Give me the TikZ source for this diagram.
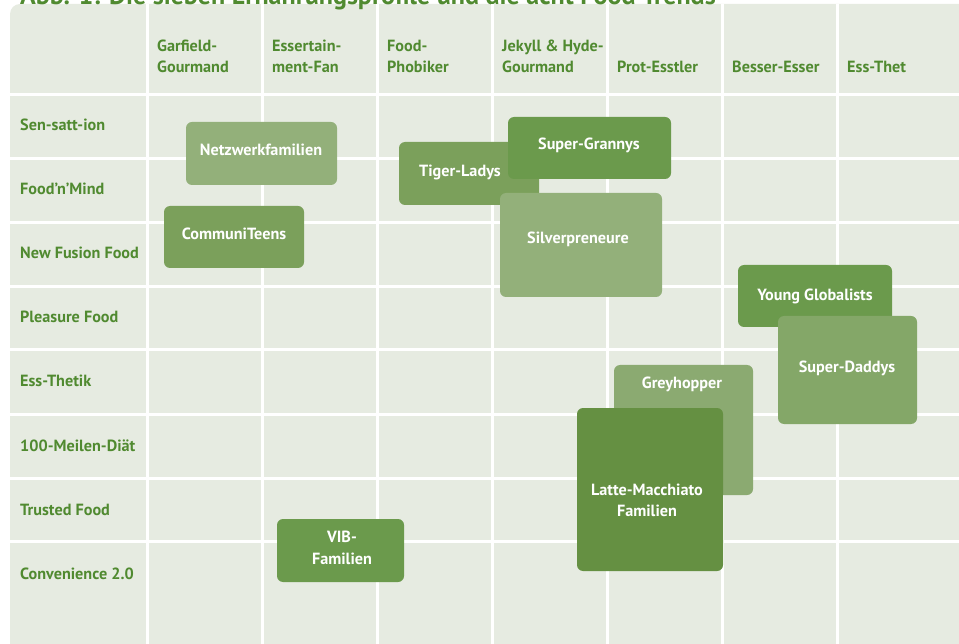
\documentclass[tikz,border=0pt]{standalone}
\usepackage{fontspec}
\setmainfont{PT Sans}
\usetikzlibrary{positioning}

\definecolor{gridbg}{RGB}{230,235,225}
\definecolor{labgreen}{RGB}{80,138,48}
\definecolor{gpale}{RGB}{147,176,122}
\definecolor{gsoft}{RGB}{139,170,113}
\definecolor{glight}{RGB}{132,167,104}
\definecolor{gmid}{RGB}{123,160,91}
\definecolor{gdark}{RGB}{107,154,76}
\definecolor{gdeep}{RGB}{101,144,66}

\begin{document}
\begin{tikzpicture}[x=1pt,y=-1pt,
  gline/.style={white,line width=3pt},
  rowlab/.style={anchor=base west,inner sep=0pt,text=labgreen,font=\bfseries\fontsize{16.2}{21.5}\selectfont},
  collab/.style={anchor=base west,align=left,inner sep=0pt,text=labgreen,font=\bfseries\fontsize{16.2}{21.5}\selectfont},
  pbox/.style={rectangle,rounded corners=6pt,inner sep=0pt},
  ptext/.style={align=center,inner sep=0pt,text=white,font=\bfseries\fontsize{16.2}{21.5}\selectfont}]
	\useasboundingbox (0,0) rectangle (959,644);
	\fill[gridbg,rounded corners=10pt] (10,4) rectangle (990,680);
	\node[anchor=base west,inner sep=0pt,text=labgreen,font=\bfseries\fontsize{26}{30}\selectfont] (title) at (20,5) {Abb. 1: Die sieben Ernährungsprofile und die acht Food Trends};
	% grid
	\draw[gline] (147,4) -- (147,644);
	\draw[gline] (262,4) -- (262,644);
	\draw[gline] (377,4) -- (377,644);
	\draw[gline] (492,4) -- (492,644);
	\draw[gline] (607,4) -- (607,644);
	\draw[gline] (722,4) -- (722,644);
	\draw[gline] (837,4) -- (837,644);
	\draw[gline] (10,95) -- (959,95);
	\draw[gline] (10,159) -- (959,159);
	\draw[gline] (10,223) -- (959,223);
	\draw[gline] (10,287) -- (959,287);
	\draw[gline] (10,350) -- (959,350);
	\draw[gline] (10,414) -- (959,414);
	\draw[gline] (10,478) -- (959,478);
	\draw[gline] (10,541) -- (959,541);
	% profiles
	\node[collab] (garfield) at (157,73) {Garfield-\\Gourmand};
	\node[collab] (essfan) at (272,73) {Essertain-\\ment-Fan};
	\node[collab] (phobiker) at (387,73) {Food-\\Phobiker};
	\node[collab] (jekyll) at (502,73) {Jekyll \& Hyde-\\Gourmand};
	\node[collab] (esstler) at (617,73) {Prot-Esstler};
	\node[collab] (besser) at (732,73) {Besser-Esser};
	\node[collab] (essthet) at (847,73) {Ess-Thet};
	% trends
	\node[rowlab] (sensation) at (20,131) {Sen-satt-ion};
	\node[rowlab] (foodmind) at (20,195) {Food’n’Mind};
	\node[rowlab] (fusion) at (20,259) {New Fusion Food};
	\node[rowlab] (pleasure) at (20,323) {Pleasure Food};
	\node[rowlab] (essthetik) at (20,387) {Ess-Thetik};
	\node[rowlab] (meilen) at (20,451) {100-Meilen-Diät};
	\node[rowlab] (trusted) at (20,515) {Trusted Food};
	\node[rowlab] (convenience) at (20,579) {Convenience 2.0};
	% groups
	\node[pbox,fill=gpale,minimum width=151,minimum height=63] (netz) at (261.5,153.5) {};
	\node[ptext] (netzlab) at (261,150) {Netzwerkfamilien};
	\node[pbox,fill=gmid,minimum width=140,minimum height=62] (teens) at (234,237) {};
	\node[ptext] (teenslab) at (234,234) {CommuniTeens};
	\node[pbox,fill=gmid,minimum width=140,minimum height=63] (tiger) at (469,173.5) {};
	\node[ptext] (tigerlab) at (460,172) {Tiger-Ladys};
	\node[pbox,fill=gdark,minimum width=163,minimum height=62] (grannys) at (589.5,148) {};
	\node[ptext] (grannyslab) at (589,145) {Super-Grannys};
	\node[pbox,fill=gpale,minimum width=162,minimum height=104] (silver) at (581,245) {};
	\node[ptext] (silverlab) at (578,239) {Silverpreneure};
	\node[pbox,fill=gdark,minimum width=154,minimum height=62] (young) at (815,296) {};
	\node[ptext] (younglab) at (815,296) {Young Globalists};
	\node[pbox,fill=glight,minimum width=139,minimum height=108] (daddys) at (847.5,370) {};
	\node[ptext] (daddyslab) at (847,368) {Super-Daddys};
	\node[pbox,fill=gsoft,minimum width=139,minimum height=130] (grey) at (683.5,430) {};
	\node[ptext] (greylab) at (682,384) {Greyhopper};
	\node[pbox,fill=gdeep,minimum width=146,minimum height=163] (latte) at (650,489.5) {};
	\node[ptext] (lattelab) at (647,500.5) {Latte-Macchiato\\Familien};
	\node[pbox,fill=gdark,minimum width=127,minimum height=63] (vib) at (340.5,550.5) {};
	\node[ptext] (viblab) at (342,548) {VIB-\\Familien};
\end{tikzpicture}
\end{document}
